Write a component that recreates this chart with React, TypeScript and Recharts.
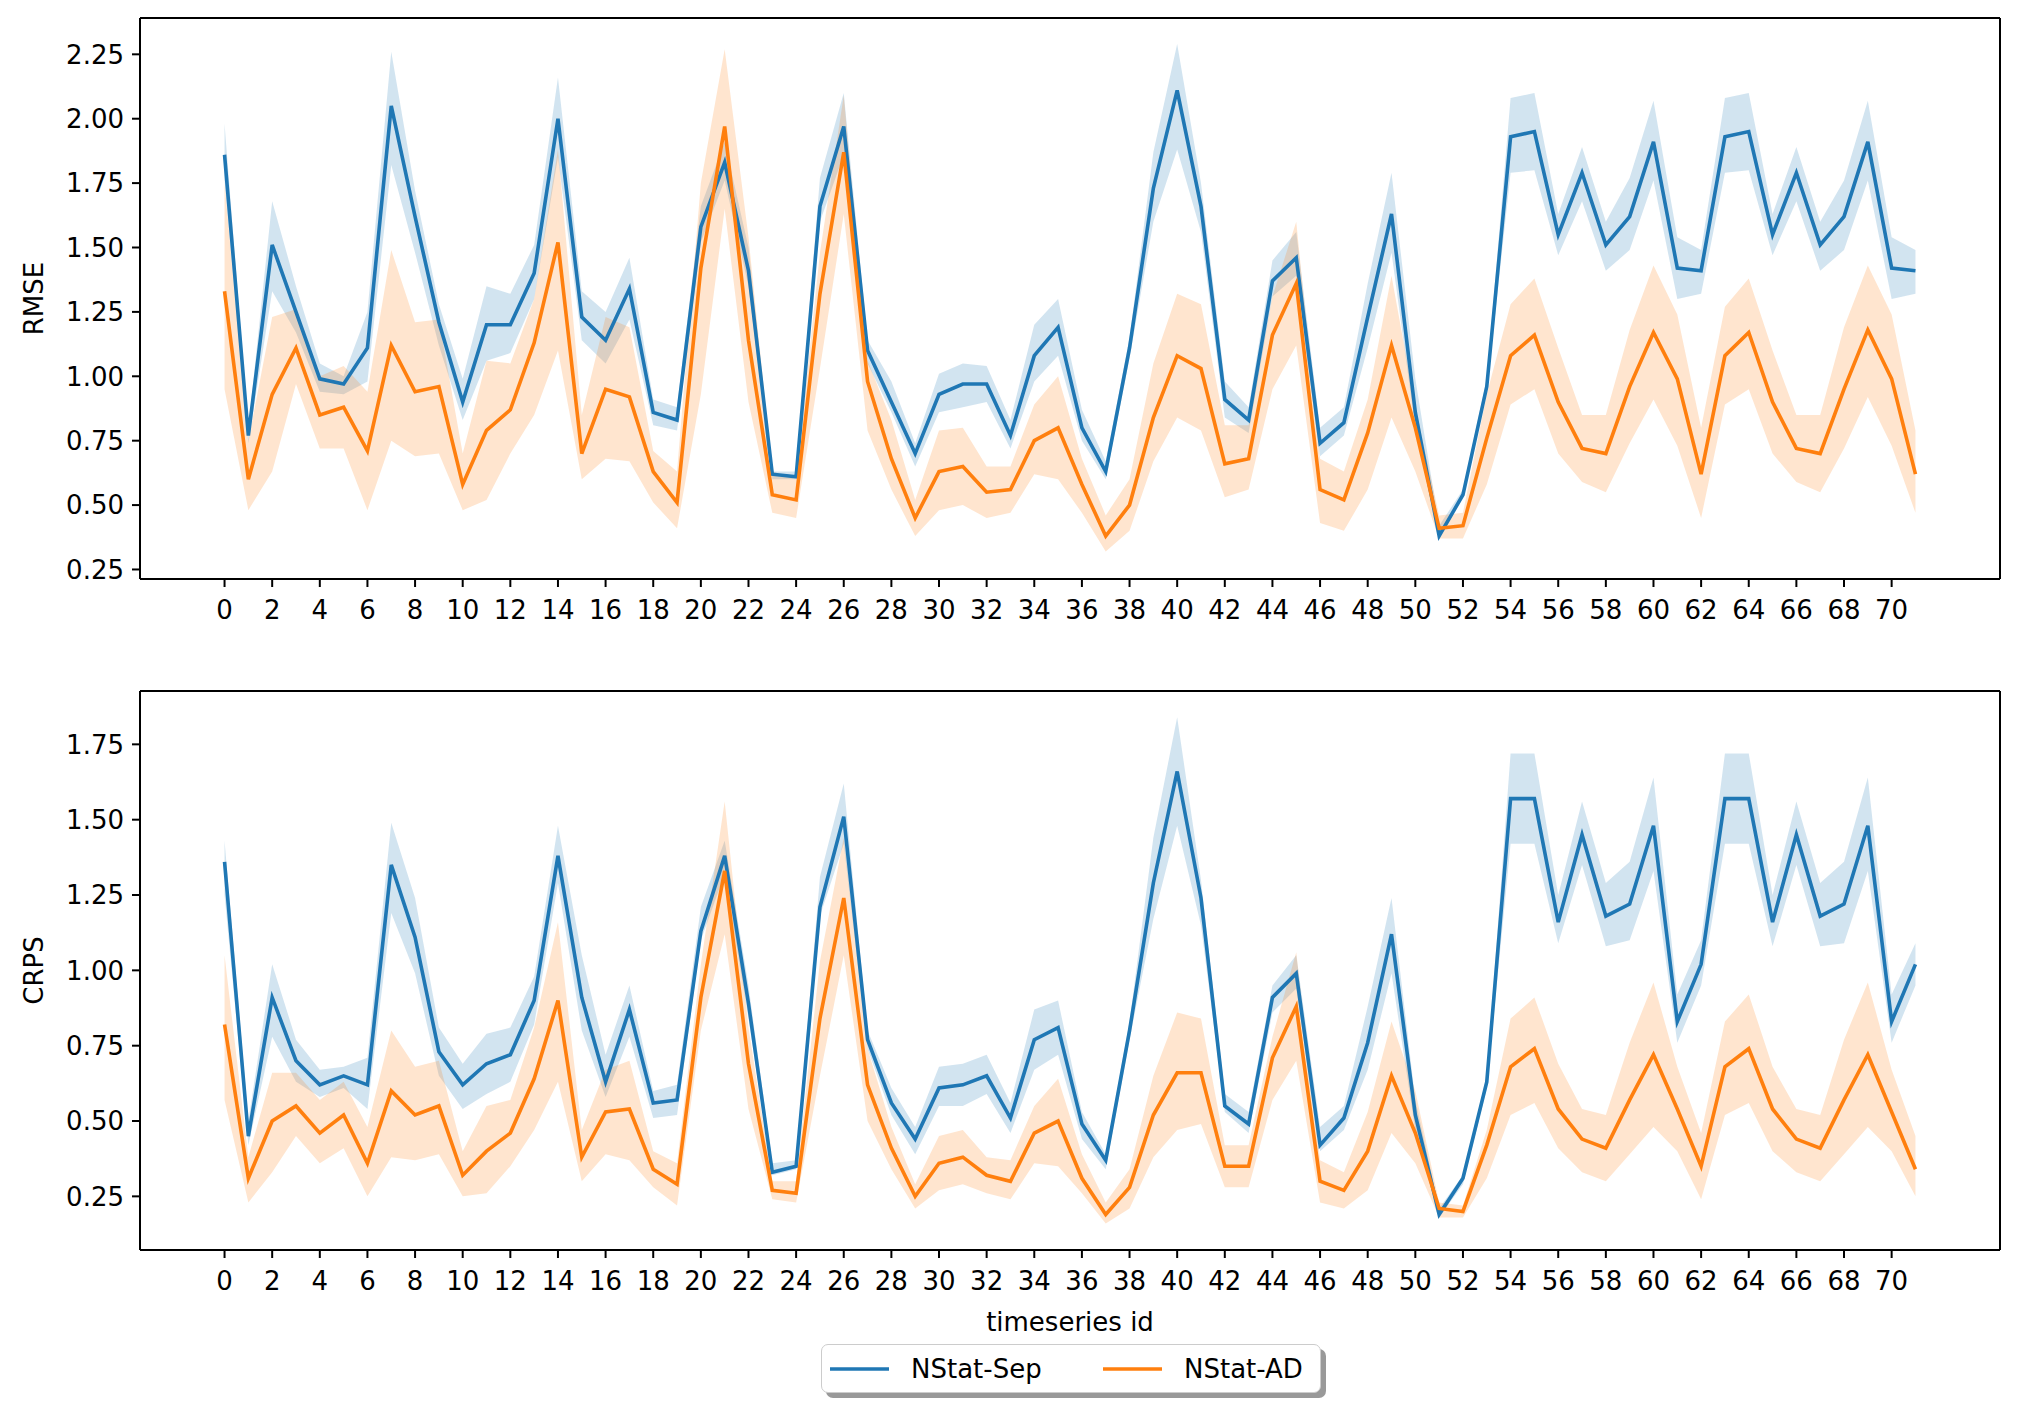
import React from 'react';
import { ComposedChart, Line, Area, XAxis, YAxis, Legend, ReferenceLine } from 'recharts';

const FONT = '"DejaVu Sans", sans-serif';
const BLUE = '#1f77b4';
const ORANGE = '#ff7f0e';

// timeseries ids on the x axis
const ids = Array.from({ length: 72 }, (_, i) => i);
const xTicks = [0, 2, 4, 6, 8, 10, 12, 14, 16, 18, 20, 22, 24, 26, 28, 30, 32, 34, 36, 38, 40, 42, 44, 46, 48, 50, 52, 54, 56, 58, 60, 62, 64, 66, 68, 70];
const xDomain = [-3.55, 74.55];

const rmseTicks = [0.25, 0.5, 0.75, 1.0, 1.25, 1.5, 1.75, 2.0, 2.25];
const crpsTicks = [0.25, 0.5, 0.75, 1.0, 1.25, 1.5, 1.75];

// RMSE - NStat-Sep
const rmseSep = [1.86, 0.77, 1.51, 1.25, 0.99, 0.97, 1.11, 2.05, 1.62, 1.21, 0.90, 1.20, 1.20, 1.40, 2.00, 1.23, 1.14, 1.34, 0.86, 0.83,
  1.58, 1.83, 1.41, 0.62, 0.61, 1.66, 1.97, 1.10, 0.90, 0.70, 0.93, 0.97, 0.97, 0.77, 1.08, 1.19, 0.80, 0.63, 1.11, 1.73, 2.11, 1.66, 0.91, 0.83, 1.37, 1.46, 0.74, 0.82,
  1.23, 1.63, 0.86, 0.38, 0.54, 0.96, 1.93, 1.95, 1.55, 1.79, 1.51, 1.62, 1.91, 1.42, 1.41, 1.93, 1.95, 1.55, 1.79, 1.51, 1.62, 1.91, 1.42, 1.41];
const rmseSepHi = [1.98, 0.80, 1.68, 1.35, 1.05, 1.00, 1.25, 2.26, 1.72, 1.28, 0.99, 1.35, 1.32, 1.51, 2.16, 1.33, 1.25, 1.46, 0.91, 0.88,
  1.66, 1.91, 1.50, 0.63, 0.63, 1.77, 2.10, 1.14, 0.98, 0.74, 1.01, 1.05, 1.04, 0.83, 1.20, 1.30, 0.87, 0.67, 1.15, 1.87, 2.29, 1.75, 0.98, 0.88, 1.45, 1.56, 0.80, 0.88,
  1.36, 1.79, 0.99, 0.42, 0.56, 0.99, 2.08, 2.10, 1.63, 1.89, 1.60, 1.77, 2.07, 1.54, 1.49, 2.08, 2.10, 1.63, 1.89, 1.60, 1.76, 2.07, 1.54, 1.49];
const rmseSepLo = [1.76, 0.74, 1.33, 1.17, 0.94, 0.93, 0.98, 1.82, 1.48, 1.12, 0.83, 1.06, 1.09, 1.30, 1.85, 1.14, 1.05, 1.22, 0.81, 0.79,
  1.52, 1.76, 1.35, 0.60, 0.60, 1.60, 1.86, 1.05, 0.86, 0.65, 0.86, 0.88, 0.90, 0.72, 0.98, 1.08, 0.75, 0.60, 1.07, 1.60, 1.88, 1.56, 0.84, 0.78, 1.31, 1.39, 0.69, 0.77,
  1.11, 1.48, 0.80, 0.37, 0.53, 0.94, 1.79, 1.80, 1.47, 1.68, 1.41, 1.49, 1.76, 1.30, 1.32, 1.79, 1.80, 1.47, 1.68, 1.41, 1.49, 1.76, 1.30, 1.32];

// RMSE - NStat-AD
const rmseAd = [1.33, 0.60, 0.93, 1.11, 0.85, 0.88, 0.71, 1.12, 0.94, 0.96, 0.58, 0.79, 0.87, 1.13, 1.52, 0.70, 0.95, 0.92, 0.63, 0.51,
  1.42, 1.97, 1.14, 0.54, 0.52, 1.32, 1.87, 0.98, 0.68, 0.45, 0.63, 0.65, 0.55, 0.56, 0.75, 0.80, 0.58, 0.38, 0.50, 0.84, 1.08, 1.03, 0.66, 0.68, 1.16, 1.36, 0.56, 0.52,
  0.78, 1.12, 0.80, 0.41, 0.42, 0.76, 1.08, 1.16, 0.90, 0.72, 0.70, 0.96, 1.17, 0.99, 0.62, 1.08, 1.17, 0.90, 0.72, 0.70, 0.95, 1.18, 0.99, 0.62];
const rmseAdHi = [1.75, 0.75, 1.23, 1.26, 1.00, 1.04, 0.94, 1.49, 1.21, 1.22, 0.70, 1.06, 1.05, 1.30, 1.88, 0.85, 1.23, 1.19, 0.71, 0.63,
  1.75, 2.27, 1.54, 0.63, 0.60, 1.48, 2.09, 1.06, 0.83, 0.52, 0.79, 0.80, 0.65, 0.65, 0.89, 1.00, 0.68, 0.46, 0.60, 1.05, 1.32, 1.28, 0.81, 0.81, 1.31, 1.60, 0.68, 0.63,
  0.91, 1.39, 0.88, 0.46, 0.47, 0.93, 1.28, 1.38, 1.11, 0.85, 0.85, 1.18, 1.43, 1.24, 0.80, 1.27, 1.38, 1.10, 0.85, 0.85, 1.19, 1.43, 1.24, 0.79];
const rmseAdLo = [0.95, 0.48, 0.63, 0.97, 0.72, 0.72, 0.48, 0.75, 0.69, 0.70, 0.48, 0.52, 0.70, 0.85, 1.10, 0.60, 0.68, 0.67, 0.51, 0.41,
  0.93, 1.65, 0.90, 0.47, 0.45, 1.03, 1.63, 0.79, 0.56, 0.38, 0.48, 0.50, 0.45, 0.47, 0.62, 0.60, 0.47, 0.32, 0.40, 0.67, 0.84, 0.79, 0.53, 0.56, 0.95, 1.12, 0.43, 0.40,
  0.56, 0.84, 0.63, 0.37, 0.37, 0.58, 0.89, 0.95, 0.70, 0.59, 0.55, 0.74, 0.91, 0.73, 0.45, 0.89, 0.95, 0.70, 0.59, 0.55, 0.72, 0.92, 0.73, 0.47];

// CRPS - NStat-Sep
const crpsSep = [1.36, 0.45, 0.91, 0.70, 0.62, 0.65, 0.62, 1.35, 1.11, 0.73, 0.62, 0.69, 0.72, 0.90, 1.38, 0.91, 0.63, 0.87, 0.56, 0.57,
  1.13, 1.38, 0.89, 0.33, 0.35, 1.21, 1.51, 0.77, 0.56, 0.44, 0.61, 0.62, 0.65, 0.51, 0.77, 0.81, 0.49, 0.37, 0.80, 1.29, 1.66, 1.24, 0.55, 0.49, 0.91, 0.99, 0.42, 0.51,
  0.76, 1.12, 0.52, 0.19, 0.31, 0.63, 1.57, 1.57, 1.16, 1.45, 1.18, 1.22, 1.48, 0.83, 1.02, 1.57, 1.57, 1.16, 1.45, 1.18, 1.22, 1.48, 0.83, 1.02];
const crpsSepHi = [1.43, 0.50, 1.02, 0.77, 0.67, 0.68, 0.71, 1.49, 1.24, 0.81, 0.69, 0.79, 0.81, 0.98, 1.48, 1.05, 0.72, 0.95, 0.60, 0.62,
  1.21, 1.43, 0.95, 0.36, 0.37, 1.31, 1.62, 0.80, 0.61, 0.48, 0.68, 0.69, 0.72, 0.56, 0.87, 0.90, 0.53, 0.39, 0.83, 1.44, 1.84, 1.30, 0.59, 0.53, 0.95, 1.05, 0.48, 0.55,
  0.88, 1.24, 0.57, 0.21, 0.32, 0.65, 1.72, 1.72, 1.25, 1.56, 1.29, 1.36, 1.64, 0.92, 1.10, 1.72, 1.72, 1.25, 1.56, 1.29, 1.36, 1.64, 0.92, 1.09];
const crpsSepLo = [1.25, 0.42, 0.78, 0.63, 0.58, 0.61, 0.54, 1.19, 0.99, 0.65, 0.54, 0.59, 0.63, 0.82, 1.29, 0.80, 0.58, 0.78, 0.51, 0.52,
  1.10, 1.32, 0.84, 0.32, 0.34, 1.18, 1.42, 0.74, 0.52, 0.39, 0.55, 0.55, 0.59, 0.46, 0.67, 0.72, 0.44, 0.34, 0.77, 1.17, 1.48, 1.15, 0.53, 0.46, 0.86, 0.94, 0.40, 0.47,
  0.67, 0.99, 0.47, 0.18, 0.29, 0.61, 1.42, 1.42, 1.09, 1.35, 1.08, 1.10, 1.33, 0.76, 0.95, 1.42, 1.42, 1.08, 1.35, 1.08, 1.09, 1.33, 0.76, 0.95];

// CRPS - NStat-AD
const crpsAd = [0.82, 0.31, 0.50, 0.55, 0.46, 0.52, 0.36, 0.60, 0.52, 0.55, 0.32, 0.40, 0.46, 0.64, 0.90, 0.38, 0.53, 0.54, 0.34, 0.29,
  0.91, 1.33, 0.69, 0.27, 0.26, 0.84, 1.24, 0.62, 0.41, 0.25, 0.36, 0.38, 0.32, 0.30, 0.46, 0.50, 0.31, 0.19, 0.28, 0.52, 0.66, 0.66, 0.35, 0.35, 0.71, 0.88, 0.30, 0.27,
  0.40, 0.65, 0.46, 0.21, 0.20, 0.42, 0.68, 0.74, 0.54, 0.44, 0.41, 0.57, 0.72, 0.54, 0.35, 0.68, 0.74, 0.54, 0.44, 0.41, 0.57, 0.72, 0.53, 0.34];
const crpsAdHi = [1.05, 0.38, 0.66, 0.66, 0.57, 0.63, 0.48, 0.80, 0.68, 0.70, 0.40, 0.55, 0.57, 0.81, 1.16, 0.47, 0.67, 0.70, 0.40, 0.36,
  1.02, 1.56, 0.81, 0.30, 0.30, 1.03, 1.44, 0.74, 0.48, 0.29, 0.45, 0.47, 0.38, 0.37, 0.55, 0.64, 0.39, 0.23, 0.34, 0.65, 0.86, 0.84, 0.42, 0.42, 0.78, 1.06, 0.37, 0.33,
  0.53, 0.83, 0.60, 0.23, 0.22, 0.47, 0.84, 0.91, 0.69, 0.54, 0.52, 0.76, 0.96, 0.68, 0.46, 0.83, 0.92, 0.68, 0.54, 0.52, 0.77, 0.96, 0.67, 0.45];
const crpsAdLo = [0.57, 0.23, 0.33, 0.45, 0.36, 0.41, 0.25, 0.38, 0.37, 0.39, 0.25, 0.26, 0.35, 0.47, 0.63, 0.30, 0.39, 0.37, 0.28, 0.22,
  0.80, 1.12, 0.54, 0.24, 0.23, 0.65, 1.05, 0.50, 0.34, 0.21, 0.27, 0.29, 0.26, 0.24, 0.36, 0.35, 0.26, 0.16, 0.21, 0.38, 0.47, 0.49, 0.28, 0.28, 0.57, 0.70, 0.23, 0.21,
  0.27, 0.46, 0.36, 0.18, 0.18, 0.31, 0.52, 0.56, 0.41, 0.33, 0.30, 0.39, 0.48, 0.40, 0.24, 0.52, 0.56, 0.40, 0.33, 0.30, 0.39, 0.48, 0.40, 0.25];

const seriesNames = { sep: 'NStat-Sep', ad: 'NStat-AD' };
const legendOrder = ['sep', 'ad'];

function buildRows(sep, sepLo, sepHi, ad, adLo, adHi) {
  return ids.map((id, i) => ({
    id,
    sep: sep[i],
    sepBand: [sepLo[i], sepHi[i]],
    ad: ad[i],
    adBand: [adLo[i], adHi[i]],
  }));
}

const rmseRows = buildRows(rmseSep, rmseSepLo, rmseSepHi, rmseAd, rmseAdLo, rmseAdHi);
const crpsRows = buildRows(crpsSep, crpsSepLo, crpsSepHi, crpsAd, crpsAdLo, crpsAdHi);

const tickStyle = { fill: '#000', fontSize: 26, fontFamily: FONT };
const lineStyle = { stroke: '#000', strokeWidth: 2 };

function LegendBox({ payload }) {
  const items = (payload || [])
    .filter((p) => p.type !== 'none')
    .sort((a, b) => legendOrder.indexOf(a.dataKey) - legendOrder.indexOf(b.dataKey));
  return (
    <div
      style={{
        boxSizing: 'border-box',
        width: 500,
        height: 49,
        background: '#fff',
        border: '1.5px solid #cccccc',
        borderRadius: 7,
        boxShadow: '5px 5px 0 rgba(0,0,0,0.4)',
        display: 'flex',
        alignItems: 'center',
        paddingLeft: 8,
        fontFamily: FONT,
        fontSize: 26,
        color: '#000',
        overflow: 'hidden',
      }}
    >
      {items.map((entry, i) => (
        <div
          key={entry.value}
          style={{ display: 'flex', alignItems: 'center', flex: 'none', width: i === 0 ? 273 : 'auto', whiteSpace: 'nowrap' }}
        >
          <svg width={59} height={10} style={{ marginRight: 22, flex: 'none' }}>
            <line x1={0} y1={5} x2={59} y2={5} stroke={entry.color} strokeWidth={3.6} />
          </svg>
          <span>{entry.value}</span>
        </div>
      ))}
    </div>
  );
}

function MetricChart({ rows, yLabel, domain, ticks, height, margin, xAxisHeight, xLabel, withLegend }) {
  return (
    <ComposedChart width={2020} height={height} data={rows} margin={margin}>
      <XAxis
        dataKey="id"
        type="number"
        domain={xDomain}
        ticks={xTicks}
        interval={0}
        allowDataOverflow
        height={xAxisHeight}
        tick={tickStyle}
        tickSize={8}
        tickMargin={14}
        tickLine={lineStyle}
        axisLine={lineStyle}
        label={xLabel ? { value: xLabel, position: 'insideBottom', offset: 0, fill: '#000', fontSize: 26, fontFamily: FONT } : undefined}
      />
      <YAxis
        type="number"
        domain={domain}
        ticks={ticks}
        allowDataOverflow
        width={140}
        tick={tickStyle}
        tickSize={8}
        tickMargin={8}
        tickLine={lineStyle}
        axisLine={lineStyle}
        tickFormatter={(v) => v.toFixed(2)}
        label={{ value: yLabel, angle: -90, position: 'insideLeft', offset: 34, fill: '#000', fontSize: 26, fontFamily: FONT, style: { textAnchor: 'middle' } }}
      />
      <Area type="linear" dataKey="sepBand" stroke="none" fill={BLUE} fillOpacity={0.2} legendType="none" dot={false} activeDot={false} isAnimationActive={false} />
      <Area type="linear" dataKey="adBand" stroke="none" fill={ORANGE} fillOpacity={0.2} legendType="none" dot={false} activeDot={false} isAnimationActive={false} />
      <Line type="linear" dataKey="sep" name={seriesNames.sep} stroke={BLUE} strokeWidth={3.6} dot={false} activeDot={false} isAnimationActive={false} />
      <Line type="linear" dataKey="ad" name={seriesNames.ad} stroke={ORANGE} strokeWidth={3.6} dot={false} activeDot={false} isAnimationActive={false} />
      {/* top and right spines of the matplotlib frame */}
      <ReferenceLine y={domain[1]} stroke="#000" strokeWidth={2} ifOverflow="visible" />
      <ReferenceLine x={xDomain[1]} stroke="#000" strokeWidth={2} ifOverflow="visible" />
      {withLegend && (
        <Legend
          layout="horizontal"
          verticalAlign="middle"
          align="center"
          content={(props) => <LegendBox payload={props.payload} />}
          wrapperStyle={{ left: 821, top: 684, width: 500 }}
        />
      )}
    </ComposedChart>
  );
}

export default function App() {
  return (
    <div style={{ position: 'absolute', left: 0, top: 0, width: 2020, height: 1414, background: '#fff', fontFamily: FONT }}>
      <div style={{ position: 'absolute', left: 0, top: 0 }}>
        <MetricChart
          rows={rmseRows}
          yLabel="RMSE"
          domain={[0.213, 2.391]}
          ticks={rmseTicks}
          height={660}
          margin={{ top: 18, right: 20, bottom: 31, left: 0 }}
          xAxisHeight={50}
        />
      </div>
      <div style={{ position: 'absolute', left: 0, top: 660 }}>
        <MetricChart
          rows={crpsRows}
          yLabel="CRPS"
          domain={[0.072, 1.927]}
          ticks={crpsTicks}
          height={754}
          margin={{ top: 31, right: 20, bottom: 83, left: 0 }}
          xAxisHeight={81}
          xLabel="timeseries id"
          withLegend
        />
      </div>
    </div>
  );
}
